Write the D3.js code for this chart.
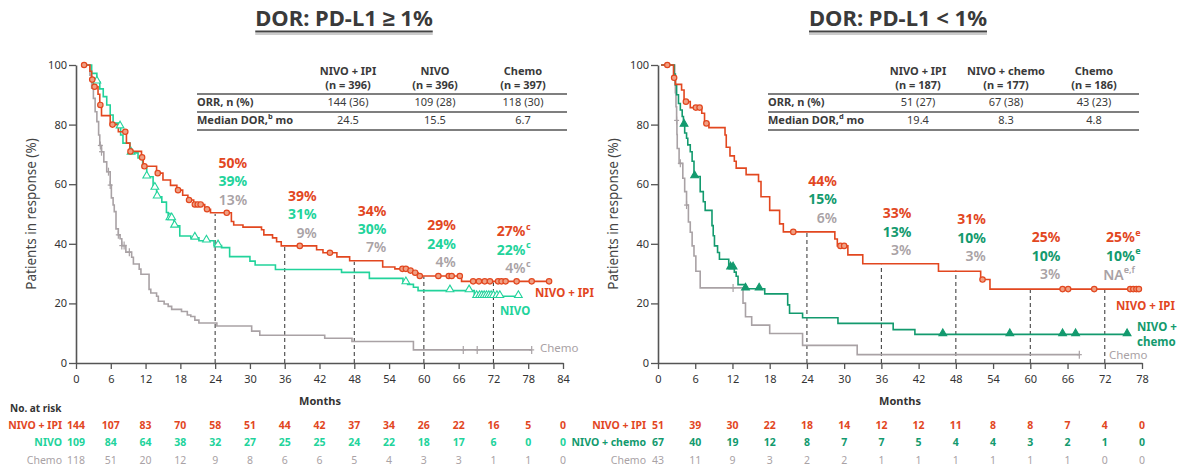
<!DOCTYPE html>
<html>
<head>
<meta charset="utf-8">
<script src="https://cdn.jsdelivr.net/npm/d3@7"></script>
<style>
  body { margin: 0; background: #fff; }
  svg { display: block; }
  text { font-family: "Noto Sans", "Liberation Sans", sans-serif; }
</style>
</head>
<body>
<svg id="chart" width="1179" height="466"></svg>
<script>
// ---------- data: PD-L1 >= 1% ----------
const hiTicks = [0, 6, 12, 18, 24, 30, 36, 42, 48, 54, 60, 66, 72, 78, 84];
const loTicks = [0, 6, 12, 18, 24, 30, 36, 42, 48, 54, 60, 66, 72, 78];
const yTicks = [0, 20, 40, 60, 80, 100];
const landmarks = [24, 36, 48, 60, 72];

// Kaplan-Meier steps: [month, % in response]
const hiIpiSteps = [[1,100],[2.4,97.9],[2.7,95.1],[3.0,92.7],[3.8,90.2],[4.1,86.6],[4.4,83.0],[5.9,80.0],[7.3,77.6],[8.7,73.8],[9.3,71.0],[11.3,69.0],[11.6,66.0],[13.9,63.7],[15.0,61.4],[16.3,59.6],[17.4,58.0],[18.4,56.3],[19.3,54.7],[20.3,53.2],[22.2,51.6],[23.2,50.4],[26.8,47.5],[27.2,46.3],[28.8,45.6],[32.0,44.7],[32.4,43.0],[33.9,42.0],[34.6,40.7],[35.4,39.3],[41.5,38.0],[42.6,37.0],[45.0,35.6],[47.2,34.3],[52.9,32.2],[55.0,31.6],[57.3,31.0],[58.1,30.3],[59.0,29.2],[66.5,27.4]];
const hiIpiEnd = 81.6;
const hiIpiCensor = [1.4,2.8,3.2,4.2,6.3,8.5,9.4,11.4,11.8,14.1,17.6,19.5,20.5,21.0,21.5,22.6,26.0,38.6,43.8,56.3,56.9,57.7,58.5,59.3,62.5,64.3,64.8,66.2,68.5,69.5,70.5,71.4,72.8,73.4,74.1,76.0,78.6,81.6];

const hiNivoSteps = [[1,100],[2.7,97.2],[3.6,94.4],[4.1,92.0],[4.7,89.4],[5.3,86.6],[5.9,83.2],[6.4,80.5],[7.3,79.3],[7.7,76.5],[8.1,73.8],[9.3,70.5],[10.7,68.8],[11.5,65.5],[12.2,62.5],[13.3,58.7],[13.9,55.8],[14.8,54.0],[15.6,50.5],[15.9,48.5],[16.9,46.0],[17.9,42.6],[19.8,42.0],[21.2,41.0],[23.8,39.4],[25.1,38.7],[26.5,35.7],[30.0,34.2],[30.9,32.9],[34.4,31.4],[45.8,30.4],[50.6,28.4],[56.4,27.0],[57.2,26.4],[58.2,25.4],[59.0,24.3],[68.7,22.4]];
const hiNivoEnd = 76.3;
const hiNivoCensor = [3.6,7.6,9.5,12.2,13.6,14.0,16.2,16.5,17.0,20.5,22.5,24.5,56.9,64.5,67.8,69.1,69.6,70.0,70.4,70.8,71.2,71.6,72.0,72.6,73.1,76.3];

const hiChemoSteps = [[1,100],[2.4,96.6],[2.7,92.2],[3.0,88.8],[3.3,84.3],[3.6,81.0],[3.9,76.5],[4.1,73.0],[4.4,70.9],[4.8,67.5],[5.3,64.2],[5.9,59.7],[6.1,55.4],[6.4,53.0],[6.6,50.8],[6.9,45.0],[7.3,43.0],[7.6,41.7],[7.9,39.4],[8.6,37.2],[9.6,35.5],[9.9,33.2],[10.9,31.5],[11.2,29.8],[12.6,24.7],[12.9,23.5],[13.9,22.4],[14.2,20.7],[15.2,19.8],[15.9,19.0],[16.5,18.0],[18.2,17.3],[19.2,16.1],[19.8,15.6],[20.5,14.4],[21.2,13.4],[24.3,12.4],[30.3,10.7],[31.7,9.3],[42.9,8.3],[47.6,7.2],[58.2,4.4]];
const hiChemoEnd = 78.6;
const hiChemoCensor = [4.2,4.4,5.6,5.9,7.3,7.9,8.3,9.2,66.8,69.2,78.6];

// ---------- data: PD-L1 < 1% ----------
const loIpiSteps = [[0.5,100],[2.5,95.7],[2.8,93.5],[3.8,91.6],[4.2,87.7],[5.2,85.7],[7.05,83.8],[7.5,80.4],[8.2,79.0],[10.8,76.5],[11.0,72.4],[11.6,69.5],[12.3,67.7],[12.6,65.4],[14.2,63.2],[16.2,60.9],[16.6,55.8],[18.0,51.2],[19.6,46.7],[20.2,44.0],[28.5,41.6],[28.9,39.3],[30.6,36.3],[33.0,33.3],[45.2,30.8],[52.0,28.0],[53.5,24.8]];
const loIpiEnd = 77.7;
const loIpiCensor = [1.5,2.6,4.5,6.1,6.7,7.8,21.8,29.4,30.0,52.3,65.2,66.1,70.3,76.1,76.6,77.1,77.5];

const loNcSteps = [[0.5,100],[2.6,97.0],[2.8,93.3],[3.0,90.0],[3.3,87.1],[3.6,84.9],[3.9,82.7],[4.1,79.9],[4.3,77.2],[4.6,75.4],[4.8,73.2],[5.2,70.9],[5.5,67.7],[5.8,62.6],[6.8,57.5],[7.3,54.1],[7.6,51.2],[8.7,46.1],[8.9,42.7],[9.1,39.3],[9.6,37.1],[9.9,34.8],[11.4,32.0],[12.3,30.5],[12.6,29.1],[12.9,26.3],[14.0,24.9],[17.2,23.2],[20.9,19.5],[21.2,16.7],[23.3,15.2],[29.0,13.3],[37.9,11.2],[41.4,9.6]];
const loNcEnd = 75.6;
const loNcCensor = [4.2,5.9,11.7,12.1,14.1,16.3,45.9,56.7,65.2,67.3,75.6];

const loChemoSteps = [[0.5,100],[2.7,95.3],[2.8,90.7],[2.9,86.0],[3.0,81.4],[3.05,76.7],[3.1,72.0],[3.4,67.0],[4.0,62.0],[4.3,57.5],[4.6,53.0],[4.9,47.3],[5.2,43.9],[5.5,39.3],[5.8,35.9],[6.1,30.8],[6.8,25.2],[13.7,20.1],[14.1,15.5],[15.1,12.7],[18.0,9.9],[23.3,5.9],[32.1,2.8]];
const loChemoEnd = 67.9;
const loChemoCensor = [3.0,3.6,4.6,12.1,67.9];

// ---------- landmark rates ----------
const hiIpiRates = [50, 39, 34, 29, 27];
const hiNivoRates = [39, 31, 30, 24, 22];
const hiChemoRates = [13, 9, 7, 4, 4];
const hiRateNotes = ["", "", "", "", "c"];
const loIpiRates = [44, 33, 31, 25, 25];
const loNcRates = [15, 13, 10, 10, 10];
const loChemoRates = ["6%", "3%", "3%", "3%", "NA"];
const loRateNotes = ["", "", "", "", "e"];
const loChemoNotes = ["", "", "", "", "e,f"];

// ---------- summary tables ----------
const hiArms = ["NIVO + IPI", "NIVO", "Chemo"];
const hiN = ["(n = 396)", "(n = 396)", "(n = 397)"];
const hiOrr = ["144 (36)", "109 (28)", "118 (30)"];
const hiMedian = ["24.5", "15.5", "6.7"];
const loArms = ["NIVO + IPI", "NIVO + chemo", "Chemo"];
const loN = ["(n = 187)", "(n = 177)", "(n = 186)"];
const loOrr = ["51 (27)", "67 (38)", "43 (23)"];
const loMedian = ["19.4", "8.3", "4.8"];

// ---------- numbers at risk ----------
const hiRiskIpi = [144, 107, 83, 70, 58, 51, 44, 42, 37, 34, 26, 22, 16, 5, 0];
const hiRiskNivo = [109, 84, 64, 38, 32, 27, 25, 25, 24, 22, 18, 17, 6, 0, 0];
const hiRiskChemo = [118, 51, 20, 12, 9, 8, 6, 6, 5, 4, 3, 3, 1, 1, 0];
const loRiskIpi = [51, 39, 30, 22, 18, 14, 12, 12, 11, 8, 8, 7, 4, 0];
const loRiskNc = [67, 40, 19, 12, 8, 7, 7, 5, 4, 4, 3, 2, 1, 0];
const loRiskChemo = [43, 11, 9, 3, 2, 2, 1, 1, 1, 1, 1, 1, 0, 0];

// ---------- styling ----------
const RED = "#e2471f";
const MINT = "#22d39b";
const TEAL = "#139a6e";
const GREY = "#a9a2a5";
const INK = "#3a3a3a";
const AXIS = "#555";

const svg = d3.select("#chart");

function valueAt(steps, t) {
  let v = steps[0][1];
  for (const [ti, si] of steps) if (ti <= t) v = si;
  return v;
}

function drawPanel(p) {
  const g = svg.append("g");
  const x = d3.scaleLinear().domain([0, p.xMax]).range([p.left, p.right]);
  const y = d3.scaleLinear().domain([0, 100]).range([363, 65]);

  // title with underline
  const title = g.append("text").attr("x", p.titleX).attr("y", 26)
    .attr("text-anchor", "middle").attr("font-size", 22).attr("font-weight", 700)
    .attr("fill", INK).text(p.title);
  const tw = title.node().getComputedTextLength();
  g.append("line").attr("x1", p.titleX - tw / 2).attr("x2", p.titleX + tw / 2)
    .attr("y1", 31.5).attr("y2", 31.5).attr("stroke", "#444").attr("stroke-width", 2);
  g.append("line").attr("x1", p.titleX - tw / 2).attr("x2", p.titleX + tw / 2)
    .attr("y1", 34).attr("y2", 34).attr("stroke", "#999").attr("stroke-width", 1);

  // axes
  const xa = g.append("g").attr("transform", "translate(0,363)")
    .call(d3.axisBottom(x).tickValues(p.ticks).tickSize(6).tickPadding(6).tickSizeOuter(0));
  const ya = g.append("g").attr("transform", `translate(${p.left},0)`)
    .call(d3.axisLeft(y).tickValues(yTicks).tickSize(7).tickPadding(2).tickSizeOuter(0));
  [xa, ya].forEach(a => {
    a.select(".domain").attr("stroke", AXIS).attr("stroke-width", 1.6);
    a.selectAll(".tick line").attr("stroke", AXIS).attr("stroke-width", 1.3);
    a.selectAll(".tick text").attr("font-size", 11).attr("fill", "#333")
      .attr("font-family", "'Noto Sans', sans-serif");
  });

  g.append("text").attr("transform", `translate(${p.yTitleX},214) rotate(-90)`)
    .attr("text-anchor", "middle").attr("dominant-baseline", "middle")
    .attr("font-size", 13.5).attr("fill", "#444").text("Patients in response (%)");
  g.append("text").attr("x", p.monthsX).attr("y", 402).attr("text-anchor", "middle")
    .attr("dominant-baseline", "middle").attr("font-size", 11).attr("font-weight", 700)
    .attr("fill", "#333").text("Months");

  // summary table
  const t = p.table;
  const cols = [t.c1, t.c2, t.c3];
  cols.forEach((cx, i) => {
    g.append("text").attr("x", cx).attr("y", 72).attr("text-anchor", "middle")
      .attr("dominant-baseline", "middle").attr("font-size", 11).attr("font-weight", 700)
      .attr("fill", INK).text(p.arms[i]);
    g.append("text").attr("x", cx).attr("y", 86).attr("text-anchor", "middle")
      .attr("dominant-baseline", "middle").attr("font-size", 11).attr("font-weight", 700)
      .attr("fill", INK).text(p.n[i]);
    g.append("text").attr("x", cx).attr("y", 103).attr("text-anchor", "middle")
      .attr("dominant-baseline", "middle").attr("font-size", 11).attr("fill", INK).text(p.orr[i]);
    g.append("text").attr("x", cx).attr("y", 121).attr("text-anchor", "middle")
      .attr("dominant-baseline", "middle").attr("font-size", 11).attr("fill", INK).text(p.median[i]);
  });
  [94, 112, 130].forEach(ly => g.append("line").attr("x1", t.x0).attr("x2", t.x1)
    .attr("y1", ly).attr("y2", ly).attr("stroke", "#555").attr("stroke-width", 1.6));
  g.append("text").attr("x", t.x0).attr("y", 103).attr("dominant-baseline", "middle")
    .attr("font-size", 11).attr("font-weight", 700).attr("fill", INK).text("ORR, n (%)");
  const md = g.append("text").attr("x", t.x0).attr("y", 121).attr("dominant-baseline", "middle")
    .attr("font-size", 11).attr("font-weight", 700).attr("fill", INK);
  md.append("tspan").text("Median DOR,");
  md.append("tspan").attr("font-size", 7.5).attr("dy", -4).text(p.medNote);
  md.append("tspan").attr("dy", 4).text(" mo");

  // landmark guides
  landmarks.forEach((m, i) => {
    g.append("line").attr("x1", x(m)).attr("x2", x(m)).attr("y1", y(0)).attr("y2", y(p.rates[0][i]))
      .attr("stroke", "#444").attr("stroke-width", 1.1).attr("stroke-dasharray", "4,3");
  });

  // curves (back to front: chemo, comparator, ipi)
  const line = d3.line().x(d => x(d[0])).y(d => y(d[1])).curve(d3.curveStepAfter);
  p.series.forEach(s => {
    const pts = s.steps.concat([[s.end, s.steps[s.steps.length - 1][1]]]);
    g.append("path").datum(pts).attr("d", line).attr("fill", "none")
      .attr("stroke", s.color).attr("stroke-width", 1.6);
  });
  p.series.forEach(s => {
    const cg = g.append("g");
    s.censor.forEach(c => {
      const cx = x(c), cy = y(valueAt(s.steps, c));
      if (s.mark === "plus") {
        cg.append("line").attr("x1", cx).attr("x2", cx).attr("y1", cy - 4).attr("y2", cy + 4)
          .attr("stroke", s.color).attr("stroke-width", 1.2);
        cg.append("line").attr("x1", cx - 2.5).attr("x2", cx + 2.5).attr("y1", cy).attr("y2", cy)
          .attr("stroke", s.color).attr("stroke-width", 1.2);
      } else if (s.mark === "circle") {
        cg.append("circle").attr("cx", cx).attr("cy", cy).attr("r", 2.7)
          .attr("fill", "#f0a084").attr("stroke", s.color).attr("stroke-width", 1.2);
      } else {
        cg.append("path").attr("d", d3.symbol(d3.symbolTriangle, 26)())
          .attr("transform", `translate(${cx},${cy - 1})`)
          .attr("fill", s.mark === "triFilled" ? s.color : "#fff")
          .attr("stroke", s.color).attr("stroke-width", 1.1);
      }
    });
  });

  // landmark rate labels
  const rowColors = [RED, p.series[1].color, GREY];
  landmarks.forEach((m, i) => {
    const ax = x(m) + p.rateOffset;
    const top = y(p.rates[0][i]) - 50;
    [0, 1, 2].forEach(r => {
      const raw = p.rates[r][i];
      const label = typeof raw === "number" ? raw + "%" : raw;
      const ty = top + r * 18.5;
      const tx = g.append("text").attr("x", ax).attr("y", ty).attr("text-anchor", "end")
        .attr("dominant-baseline", "middle").attr("font-size", 14)
        .attr("font-weight", r === 2 ? 600 : 700).attr("fill", rowColors[r]);
      const note = p.notes[r][i];
      if (label === "NA") {
        tx.append("tspan").text(label);
        tx.append("tspan").attr("font-size", 9).attr("dy", -5).text(note);
      } else {
        tx.text(label);
        if (note) g.append("text").attr("x", ax + 0.5).attr("y", ty - 5)
          .attr("dominant-baseline", "middle").attr("font-size", 9).attr("font-weight", 700)
          .attr("fill", rowColors[r]).text(note);
      }
    });
  });

  // curve end labels
  p.endLabels.forEach(l => {
    g.append("text").attr("x", l.x).attr("y", l.y).attr("dominant-baseline", "middle")
      .attr("font-size", 11.5).attr("font-weight", l.bold ? 700 : 400)
      .attr("fill", l.color).text(l.text);
  });

  // numbers at risk
  p.risk.forEach((row, r) => {
    const ry = 426 + r * 17.5;
    g.append("text").attr("x", p.riskLabelX).attr("y", ry).attr("text-anchor", "end")
      .attr("dominant-baseline", "middle").attr("font-size", 10.5)
      .attr("font-weight", r === 2 ? 400 : 700).attr("fill", row.color).text(row.name);
    row.values.forEach((v, k) => {
      g.append("text").attr("x", x(p.ticks[k])).attr("y", ry).attr("text-anchor", "middle")
        .attr("dominant-baseline", "middle").attr("font-size", 10.5)
        .attr("font-weight", r === 2 ? 400 : 700).attr("fill", row.color).text(v);
    });
  });
}

drawPanel({
  title: "DOR: PD-L1 \u2265 1%", titleX: 344,
  xMax: 84, left: 76, right: 563, ticks: hiTicks,
  yTitleX: 32, monthsX: 320,
  table: { x0: 197, x1: 567, c1: 348, c2: 435, c3: 523 },
  arms: hiArms, n: hiN, orr: hiOrr, median: hiMedian, medNote: "b",
  rates: [hiIpiRates, hiNivoRates, hiChemoRates],
  notes: [hiRateNotes, hiRateNotes, hiRateNotes],
  rateOffset: 32,
  series: [
    { steps: hiChemoSteps, end: hiChemoEnd, censor: hiChemoCensor, color: GREY, mark: "plus" },
    { steps: hiNivoSteps, end: hiNivoEnd, censor: hiNivoCensor, color: MINT, mark: "tri" },
    { steps: hiIpiSteps, end: hiIpiEnd, censor: hiIpiCensor, color: RED, mark: "circle" }
  ],
  endLabels: [
    { text: "NIVO + IPI", x: 535, y: 294, color: RED, bold: true },
    { text: "NIVO", x: 500, y: 312, color: MINT, bold: true },
    { text: "Chemo", x: 540, y: 349, color: GREY, bold: false }
  ],
  riskLabelX: 62,
  risk: [
    { name: "NIVO + IPI", values: hiRiskIpi, color: RED },
    { name: "NIVO", values: hiRiskNivo, color: MINT },
    { name: "Chemo", values: hiRiskChemo, color: GREY }
  ]
});

drawPanel({
  title: "DOR: PD-L1 < 1%", titleX: 898,
  xMax: 78, left: 658, right: 1142, ticks: loTicks,
  yTitleX: 614, monthsX: 900,
  table: { x0: 768, x1: 1139, c1: 918, c2: 1006, c3: 1094 },
  arms: loArms, n: loN, orr: loOrr, median: loMedian, medNote: "d",
  rates: [loIpiRates, loNcRates, loChemoRates],
  notes: [loRateNotes, loRateNotes, loChemoNotes],
  rateOffset: 30,
  series: [
    { steps: loChemoSteps, end: loChemoEnd, censor: loChemoCensor, color: GREY, mark: "plus" },
    { steps: loNcSteps, end: loNcEnd, censor: loNcCensor, color: TEAL, mark: "triFilled" },
    { steps: loIpiSteps, end: loIpiEnd, censor: loIpiCensor, color: RED, mark: "circle" }
  ],
  endLabels: [
    { text: "NIVO + IPI", x: 1116, y: 307, color: RED, bold: true },
    { text: "NIVO +", x: 1137, y: 328, color: TEAL, bold: true },
    { text: "chemo", x: 1137, y: 343, color: TEAL, bold: true },
    { text: "Chemo", x: 1109, y: 356, color: GREY, bold: false }
  ],
  riskLabelX: 646,
  risk: [
    { name: "NIVO + IPI", values: loRiskIpi, color: RED },
    { name: "NIVO + chemo", values: loRiskNc, color: TEAL },
    { name: "Chemo", values: loRiskChemo, color: GREY }
  ]
});

svg.append("text").attr("x", 10).attr("y", 409).attr("dominant-baseline", "middle")
  .attr("font-size", 10).attr("font-weight", 700).attr("fill", "#333").text("No. at risk");
</script>
</body>
</html>
